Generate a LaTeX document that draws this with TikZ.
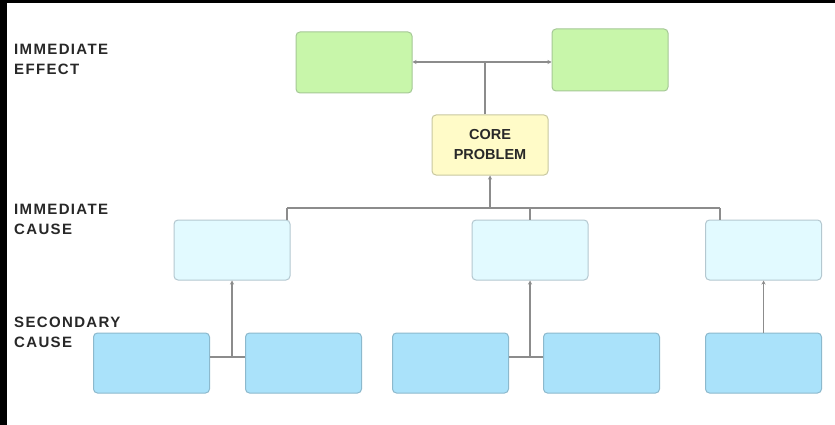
\documentclass[tikz,border=0pt]{standalone}
\usepackage{fontspec}
\setmainfont{Liberation Sans}
\usetikzlibrary{arrows.meta,calc}

\definecolor{effectfill}{RGB}{200,246,170}
\definecolor{effectline}{RGB}{165,200,150}
\definecolor{corefill}{RGB}{255,251,200}
\definecolor{coreline}{RGB}{200,200,160}
\definecolor{causefill}{RGB}{226,250,255}
\definecolor{causeline}{RGB}{180,200,208}
\definecolor{secfill}{RGB}{170,226,250}
\definecolor{secline}{RGB}{140,185,205}
\definecolor{wire}{RGB}{140,140,140}
\definecolor{labeltext}{RGB}{40,40,40}

\tikzset{
  box/.style={rectangle, rounded corners=4pt, line width=1pt,
    minimum width=116pt, minimum height=60pt, inner sep=0pt},
  effectbox/.style={box, fill=effectfill, draw=effectline},
  corebox/.style={box, fill=corefill, draw=coreline, align=center,
    font=\fontsize{14.5}{20}\selectfont\bfseries, text=labeltext},
  causebox/.style={box, fill=causefill, draw=causeline},
  secbox/.style={box, fill=secfill, draw=secline},
  wireline/.style={draw=wire, line width=1.1pt},
  wirearrow/.style={wireline, -{Stealth[length=4pt,width=4pt]}},
  rowlabel/.style={anchor=north west, align=left, inner sep=0pt, text=labeltext,
    font=\addfontfeatures{LetterSpace=9}\fontsize{15}{20}\selectfont\bfseries}
}

\begin{document}
\begin{tikzpicture}[x=1pt,y=-1pt]
  % canvas and dark frame edges
  \fill[white] (0,0) rectangle (835,425);
  \useasboundingbox (0,0) rectangle (835,425);
  \fill[black] (0,0) rectangle (7,425);
  \fill[black] (0,0) rectangle (835,3);

  % row labels
  \node[rowlabel] (lblEffect) at (14,44) {IMMEDIATE\\EFFECT};
  \node[rowlabel] (lblCause) at (14,204) {IMMEDIATE\\CAUSE};
  \node[rowlabel] (lblSecondary) at (14,317) {SECONDARY\\CAUSE};

  % immediate effects
  \node[effectbox, minimum height=61pt] (e1) at (354,62.5) {};
  \node[effectbox, minimum height=62pt] (e2) at (610,60) {};

  % core problem
  \node[corebox] (core) at (490,145) {CORE\\PROBLEM};

  % immediate causes
  \node[causebox] (c1) at (232,250) {};
  \node[causebox] (c2) at (530,250) {};
  \node[causebox] (c3) at (763.5,250) {};

  % secondary causes
  \node[secbox] (s1) at (151.5,363) {};
  \node[secbox] (s2) at (303.5,363) {};
  \node[secbox] (s3) at (450.5,363) {};
  \node[secbox] (s4) at (601.5,363) {};
  \node[secbox] (s5) at (763.5,363) {};

  % core problem -> effects
  \coordinate (ej) at (485,62);
  \draw[wireline] ([xshift=-5pt]core.north) -- (ej);
  \draw[wirearrow] (ej) -- (e1.east |- ej);
  \draw[wirearrow] (ej) -- (e2.west |- ej);

  % immediate causes -> core problem
  \coordinate (cj) at (490,208);
  \coordinate (cj1) at (287,208);
  \coordinate (cj3) at (720,208);
  \draw[wirearrow] (cj) -- (core.south);
  \draw[wireline] (cj1) -- (cj3);
  \draw[wireline] (cj1) -- (cj1 |- c1.north);
  \draw[wireline] (c2.north |- cj) -- (c2.north);
  \draw[wireline] (cj3) -- (cj3 |- c3.north);

  % secondary causes -> immediate causes
  \coordinate (sj1) at (232,357);
  \coordinate (sj2) at (530,357);
  \draw[wireline] (s1.east |- sj1) -- (s2.west |- sj1);
  \draw[wirearrow] (sj1) -- (c1.south);
  \draw[wireline] (s3.east |- sj2) -- (s4.west |- sj2);
  \draw[wirearrow] (sj2) -- (c2.south);
  \draw[wirearrow] (s5.north) -- (c3.south);
\end{tikzpicture}
\end{document}
